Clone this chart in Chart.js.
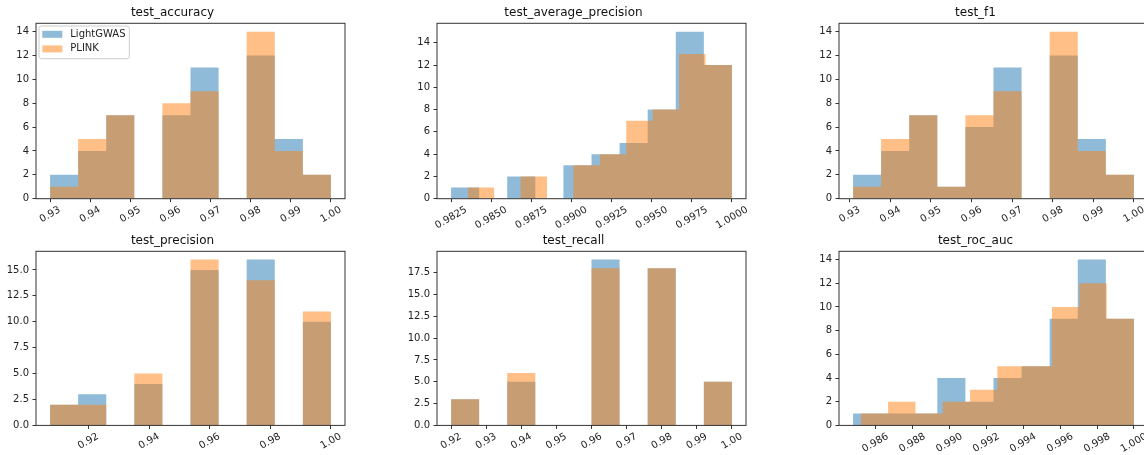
<!DOCTYPE html>
<html>
<head>
<meta charset="utf-8">
<title>Cross-validation metrics: LightGWAS vs PLINK</title>
<script src="https://cdn.jsdelivr.net/npm/chart.js@4.4.1/dist/chart.umd.min.js"></script>
<style>
  html, body { margin: 0; padding: 0; background: #fff; overflow: hidden; }
  body { width: 1144px; height: 455px; position: relative; }
  canvas { position: absolute; }
</style>
</head>
<body>
<canvas id="accuracy"></canvas>
<canvas id="avgPrecision"></canvas>
<canvas id="f1"></canvas>
<canvas id="precision"></canvas>
<canvas id="recall"></canvas>
<canvas id="rocAuc"></canvas>
<script>
const seriesNames = ['LightGWAS', 'PLINK'];
const seriesColors = ['rgba(31, 119, 180, 0.5)', 'rgba(255, 127, 14, 0.5)'];

// each histogram: [first edge, last edge] split into 10 equal bins, and the count per bin
const accuracyLightRange = [0.93, 1.0];
const accuracyLightCounts = [2, 4, 7, 0, 7, 11, 0, 12, 5, 2];
const accuracyPlinkRange = [0.93, 1.0];
const accuracyPlinkCounts = [1, 5, 7, 0, 8, 9, 0, 14, 4, 2];

const avgPrecLightRange = [0.9825, 1.0];
const avgPrecLightCounts = [1, 0, 2, 0, 3, 4, 5, 8, 15, 12];
const avgPrecPlinkRange = [0.98354, 1.0];
const avgPrecPlinkCounts = [1, 0, 2, 0, 3, 4, 7, 8, 13, 12];

const f1LightRange = [0.93082, 1.0];
const f1LightCounts = [2, 4, 7, 1, 6, 11, 0, 12, 5, 2];
const f1PlinkRange = [0.93082, 1.0];
const f1PlinkCounts = [1, 5, 7, 1, 7, 9, 0, 14, 4, 2];

const precisionLightRange = [0.90734, 1.0];
const precisionLightCounts = [2, 3, 0, 4, 0, 15, 0, 16, 0, 10];
const precisionPlinkRange = [0.90734, 1.0];
const precisionPlinkCounts = [2, 2, 0, 5, 0, 16, 0, 14, 0, 11];

const recallLightRange = [0.92, 1.0];
const recallLightCounts = [3, 0, 5, 0, 0, 19, 0, 18, 0, 5];
const recallPlinkRange = [0.92, 1.0];
const recallPlinkCounts = [3, 0, 6, 0, 0, 18, 0, 18, 0, 5];

const rocLightRange = [0.98479, 1.0];
const rocLightCounts = [1, 1, 1, 4, 2, 4, 5, 9, 14, 9];
const rocPlinkRange = [0.98521, 1.0];
const rocPlinkCounts = [1, 2, 1, 2, 3, 5, 5, 10, 12, 9];

// tick values
const xTicksHundredths = [0.93, 0.94, 0.95, 0.96, 0.97, 0.98, 0.99, 1.0];
const xTicksAvgPrec = [0.9825, 0.985, 0.9875, 0.99, 0.9925, 0.995, 0.9975, 1.0];
const xTicksPrecision = [0.92, 0.94, 0.96, 0.98, 1.0];
const xTicksRecall = [0.92, 0.93, 0.94, 0.95, 0.96, 0.97, 0.98, 0.99, 1.0];
const xTicksRoc = [0.986, 0.988, 0.99, 0.992, 0.994, 0.996, 0.998, 1.0];
const yTicksEvens = [0, 2, 4, 6, 8, 10, 12, 14];
const yTicksQuarters15 = [0, 2.5, 5, 7.5, 10, 12.5, 15];
const yTicksQuarters17 = [0, 2.5, 5, 7.5, 10, 12.5, 15, 17.5];

const FONT = "'DejaVu Sans', sans-serif";
const AXIS_W = 36;
const PLOT_W = 309;
const TITLE_H = 23.3;
const rowTop = [23.3, 251.3];
const rowBottom = [198.7, 425.4];
const colLeft = [36, 437, 839];

const panels = [
  { id: 'accuracy', title: 'test_accuracy', row: 0, col: 0,
    ranges: [accuracyLightRange, accuracyPlinkRange], counts: [accuracyLightCounts, accuracyPlinkCounts],
    xTicks: xTicksHundredths, yTicks: yTicksEvens, xDec: 2, yDec: 0, legend: true },
  { id: 'avgPrecision', title: 'test_average_precision', row: 0, col: 1,
    ranges: [avgPrecLightRange, avgPrecPlinkRange], counts: [avgPrecLightCounts, avgPrecPlinkCounts],
    xTicks: xTicksAvgPrec, yTicks: yTicksEvens, xDec: 4, yDec: 0 },
  { id: 'f1', title: 'test_f1', row: 0, col: 2,
    ranges: [f1LightRange, f1PlinkRange], counts: [f1LightCounts, f1PlinkCounts],
    xTicks: xTicksHundredths, yTicks: yTicksEvens, xDec: 2, yDec: 0 },
  { id: 'precision', title: 'test_precision', row: 1, col: 0,
    ranges: [precisionLightRange, precisionPlinkRange], counts: [precisionLightCounts, precisionPlinkCounts],
    xTicks: xTicksPrecision, yTicks: yTicksQuarters15, xDec: 2, yDec: 1 },
  { id: 'recall', title: 'test_recall', row: 1, col: 1,
    ranges: [recallLightRange, recallPlinkRange], counts: [recallLightCounts, recallPlinkCounts],
    xTicks: xTicksRecall, yTicks: yTicksQuarters17, xDec: 2, yDec: 1 },
  { id: 'rocAuc', title: 'test_roc_auc', row: 1, col: 2,
    ranges: [rocLightRange, rocPlinkRange], counts: [rocLightCounts, rocPlinkCounts],
    xTicks: xTicksRoc, yTicks: yTicksEvens, xDec: 3, yDec: 0 },
];

// step outline of a histogram: rises at the first edge, drops at the last
function histPoints(range, counts) {
  const w = (range[1] - range[0]) / counts.length;
  const pts = [{ x: range[0], y: 0 }];
  counts.forEach((c, i) => pts.push({ x: range[0] + i * w, y: c }));
  pts.push({ x: range[1], y: 0 });
  return pts;
}

// frame, rotated x labels and the legend box
const panelDecor = {
  id: 'panelDecor',
  afterDraw(chart, args, opts) {
    const { ctx, chartArea: a } = chart;
    const x = chart.scales.x;
    ctx.save();
    ctx.strokeStyle = '#333';
    ctx.lineWidth = 1;
    ctx.strokeRect(a.left, a.top, a.right - a.left, a.bottom - a.top);

    ctx.font = `10px ${FONT}`;
    ctx.fillStyle = '#222';
    ctx.textAlign = 'center';
    ctx.textBaseline = 'middle';
    x.ticks.forEach(t => {
      const label = t.value.toFixed(opts.xDecimals);
      const w = ctx.measureText(label).width;
      const drop = 5.3 + (w * 0.5 + 11.6 * 0.866) / 2;
      ctx.save();
      ctx.translate(x.getPixelForValue(t.value), a.bottom + drop);
      ctx.rotate(-Math.PI / 6);
      ctx.fillText(label, 0, 0);
      ctx.restore();
    });

    if (opts.legend) {
      const lx = a.left + 3, ly = a.top + 2.7;
      ctx.beginPath();
      ctx.roundRect(lx, ly, 90.3, 32.7, 2.5);
      ctx.fillStyle = 'rgba(255, 255, 255, 0.8)';
      ctx.fill();
      ctx.strokeStyle = '#ccc';
      ctx.stroke();
      ctx.textAlign = 'left';
      chart.data.datasets.forEach((ds, i) => {
        const cy = a.top + 11 + i * 14.6;
        ctx.fillStyle = ds.backgroundColor;
        ctx.fillRect(a.left + 6.3, cy - 3.5, 20, 7);
        ctx.fillStyle = '#222';
        ctx.fillText(ds.label, a.left + 34.3, cy);
      });
    }
    ctx.restore();
  }
};

function drawPanel(p) {
  const canvas = document.getElementById(p.id);
  const top = rowTop[p.row], bottom = rowBottom[p.row], left = colLeft[p.col];
  const cTop = Math.round(top - TITLE_H);
  const titleH = top - cTop;
  const cH = Math.round(bottom - cTop + 36);
  const xAxisH = cTop + cH - bottom;
  const cW = AXIS_W * 2 + PLOT_W;
  canvas.width = cW;
  canvas.height = cH;
  canvas.style.width = cW + 'px';
  canvas.style.height = cH + 'px';
  canvas.style.left = (left - AXIS_W) + 'px';
  canvas.style.top = cTop + 'px';

  const lo = Math.min(p.ranges[0][0], p.ranges[1][0]);
  const hi = Math.max(p.ranges[0][1], p.ranges[1][1]);
  const pad = (hi - lo) * 0.05;
  const yMax = Math.max(...p.counts[0], ...p.counts[1]) * 1.05;

  const tickGrid = { display: true, drawOnChartArea: false, drawTicks: true, tickLength: 3.5, color: '#333', lineWidth: 1 };

  new Chart(canvas, {
    type: 'line',
    data: {
      datasets: seriesNames.map((name, k) => ({
        label: name,
        data: histPoints(p.ranges[k], p.counts[k]),
        stepped: true,
        fill: 'origin',
        backgroundColor: seriesColors[k],
        borderColor: 'rgba(0, 0, 0, 0)',
        borderWidth: 0,
        pointRadius: 0,
        order: 2 - k
      }))
    },
    options: {
      responsive: false,
      animation: false,
      events: [],
      layout: { padding: { left: 0, right: AXIS_W, top: 0, bottom: 0 } },
      scales: {
        x: {
          type: 'linear',
          min: lo - pad,
          max: hi + pad,
          afterBuildTicks: s => { s.ticks = p.xTicks.map(v => ({ value: v })); },
          afterFit: s => { s.height = xAxisH; },
          grid: tickGrid,
          border: { display: false },
          ticks: { display: false }
        },
        y: {
          type: 'linear',
          min: 0,
          max: yMax,
          afterBuildTicks: s => { s.ticks = p.yTicks.map(v => ({ value: v })); },
          afterFit: s => { s.width = AXIS_W; },
          grid: tickGrid,
          border: { display: false },
          ticks: {
            padding: 3.5,
            color: '#222',
            font: { family: FONT, size: 10 },
            callback: v => v.toFixed(p.yDec)
          }
        }
      },
      plugins: {
        legend: { display: false },
        tooltip: { enabled: false },
        title: {
          display: true,
          text: p.title,
          color: '#111',
          font: { family: FONT, size: 12, weight: 'normal', lineHeight: 1.2 },
          padding: { top: titleH - 14.4 - 3.4, bottom: 3.4 }
        },
        panelDecor: { xDecimals: p.xDec, legend: !!p.legend }
      }
    },
    plugins: [panelDecor]
  });
}

panels.forEach(drawPanel);
</script>
</body>
</html>
